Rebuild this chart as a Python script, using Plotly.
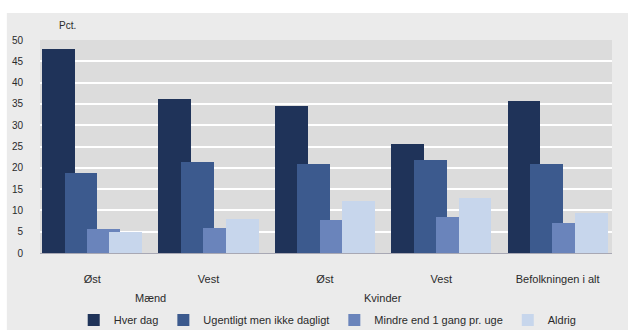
import plotly.graph_objects as go

# ---- data ----
regions = ["Øst", "Vest", "Øst", "Vest", "Befolkningen i alt"]
sex_labels = ["Mænd", "Kvinder"]
sex_positions = [0.5, 2.5]
series_names = ["Hver dag", "Ugentligt men ikke dagligt", "Mindre end 1 gang pr. uge", "Aldrig"]
hver_dag = [48.0, 36.1, 34.5, 25.5, 35.7]
ugentligt = [18.8, 21.3, 21.0, 21.9, 20.8]
mindre = [5.6, 5.9, 7.8, 8.4, 7.0]
aldrig = [5.0, 7.9, 12.1, 12.9, 9.5]
y_ticks = [0, 5, 10, 15, 20, 25, 30, 35, 40, 45, 50]

series = [hver_dag, ugentligt, mindre, aldrig]
colors = ["#1f3359", "#3c5a8e", "#6a84bb", "#c7d6ec"]

FONT = "Liberation Sans, Arial, sans-serif"
TXT = "#2a2a2a"
x = list(range(len(regions)))
bar_w = 0.283
step = 0.193
start = -0.431

fig = go.Figure()
for k, (name, vals, col) in enumerate(zip(series_names, series, colors)):
    fig.add_trace(go.Bar(
        x=x, y=vals, name=name,
        marker=dict(color=col, line=dict(width=0)),
        width=bar_w, offset=start + k * step,
    ))

for lab, pos in zip(sex_labels, sex_positions):
    fig.add_annotation(x=pos, xref="x", y=-0.211, yref="paper", text=lab,
                       showarrow=False, yanchor="middle",
                       font=dict(family=FONT, size=11, color=TXT))

fig.add_annotation(x=0.03, xref="paper", y=1.07, yref="paper", text="Pct.",
                   showarrow=False, yanchor="middle",
                   font=dict(family=FONT, size=10, color=TXT))

# white strips outside the grey panel (top and left)
fig.add_shape(type="rect", xref="paper", yref="paper",
              x0=-0.2, x1=1.2, y0=1.127, y1=1.3,
              fillcolor="white", line=dict(width=0), layer="above")
fig.add_shape(type="rect", xref="paper", yref="paper",
              x0=-0.2, x1=-0.058, y0=-0.5, y1=1.3,
              fillcolor="white", line=dict(width=0), layer="above")

fig.update_layout(
    width=628, height=330,
    margin=dict(l=40, r=16, t=40, b=77, autoexpand=False),
    paper_bgcolor="#ebebeb",
    plot_bgcolor="#dcdcdc",
    barmode="overlay",
    bargap=0,
    font=dict(family=FONT, size=10, color=TXT),
    showlegend=True,
    legend=dict(orientation="h", x=0.503, xanchor="center", y=-0.315, yanchor="middle",
                font=dict(family=FONT, size=11, color=TXT),
                bgcolor="rgba(0,0,0,0)", itemwidth=30, traceorder="normal"),
    xaxis=dict(range=[-0.4485, 4.467], tickmode="array", tickvals=x, ticktext=regions,
               showgrid=False, zeroline=False, showline=False, ticks="",
               automargin=False, ticklabelstandoff=18,
               tickfont=dict(family=FONT, size=11, color=TXT)),
    yaxis=dict(range=[0, 50], tickmode="array", tickvals=y_ticks,
               showgrid=True, gridcolor="#ffffff", gridwidth=1.5,
               zeroline=True, zerolinecolor="#a8a8b4", zerolinewidth=1,
               showline=False, ticks="", ticklabelstandoff=16, automargin=False,
               tickfont=dict(family=FONT, size=10, color=TXT)),
)

fig.write_html("out.html")
